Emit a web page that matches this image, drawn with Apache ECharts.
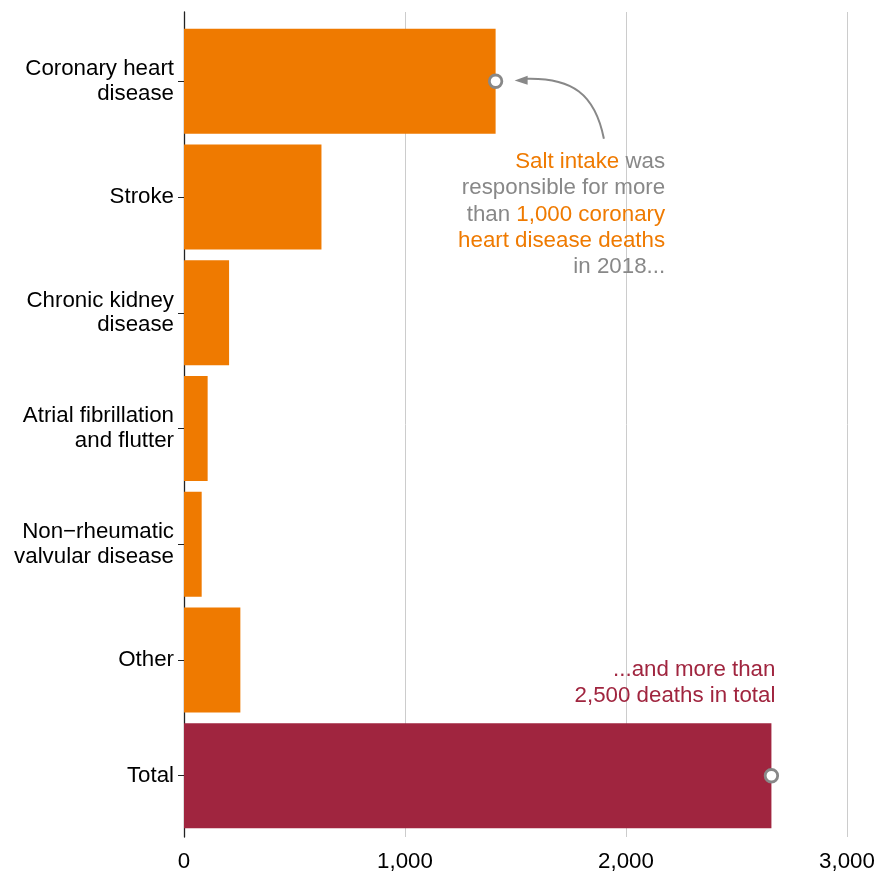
<!DOCTYPE html>
<html>
<head>
<meta charset="utf-8">
<script src="https://cdn.jsdelivr.net/npm/echarts@6/dist/echarts.min.js"></script>
<style>
  html, body { margin: 0; padding: 0; background: #ffffff; }
  #chart { width: 879px; height: 873px; }
</style>
</head>
<body>
<div id="chart"></div>
<script>
// Deaths attributable to salt intake, 2018, by cause
const causes = [
  'Coronary heart\ndisease',
  'Stroke',
  'Chronic kidney\ndisease',
  'Atrial fibrillation\nand flutter',
  'Non\u2212rheumatic\nvalvular disease',
  'Other',
  'Total'
];
const deaths = [1410, 622, 204, 107, 80, 255, 2658];
const xTicks = [0, 1000, 2000, 3000];
// causes that get a highlight marker at the end of their bar
const markedCauses = [0, 6];

const ORANGE = '#EF7A00';
const RED = '#A0253F';
const GREY = '#888888';
const FONT = '"Liberation Sans", Arial, Helvetica, sans-serif';
const FS = 22.3;

const chart = echarts.init(document.getElementById('chart'), null, { renderer: 'canvas' });

const panelLeft = 184, panelRight = 32;

chart.setOption({
  animation: false,
  backgroundColor: '#ffffff',
  textStyle: { fontFamily: FONT },
  grid: [
    // full panel: gridlines, x labels and the left axis line
    { left: panelLeft, right: panelRight, top: 12, bottom: 29, containLabel: false },
    // bar area, inset a little from the panel top and bottom
    { left: panelLeft, right: panelRight, top: 23.4, bottom: 39.4, containLabel: false }
  ],
  xAxis: [
    {
      gridIndex: 0, type: 'value',
      min: xTicks[0], max: xTicks[xTicks.length - 1], interval: xTicks[1] - xTicks[0],
      axisLine: { show: false }, axisTick: { show: false },
      splitLine: { show: true, lineStyle: { color: '#cccccc', width: 1 } },
      axisLabel: {
        color: '#000000', fontSize: FS, fontFamily: FONT, margin: 14,
        formatter: v => v.toLocaleString('en-US')
      }
    },
    {
      gridIndex: 1, type: 'value',
      min: xTicks[0], max: xTicks[xTicks.length - 1],
      show: false
    }
  ],
  yAxis: [
    {
      gridIndex: 0, type: 'value', min: 0, max: 1,
      axisLine: { show: true, lineStyle: { color: '#222222', width: 1.3 } },
      axisTick: { show: false }, axisLabel: { show: false }, splitLine: { show: false }
    },
    {
      gridIndex: 1, type: 'category', data: causes, inverse: true,
      axisLine: { show: false },
      axisTick: { show: true, alignWithLabel: true, length: 6, lineStyle: { color: '#222222', width: 1 } },
      axisLabel: {
        color: '#000000', fontSize: FS, fontFamily: FONT, lineHeight: 24.5,
        align: 'right', margin: 10, padding: [9, 0, 0, 0]
      },
      splitLine: { show: false }
    }
  ],
  series: [
    {
      type: 'bar', xAxisIndex: 1, yAxisIndex: 1,
      barCategoryGap: '9.2%',
      data: deaths.map((v, i) => ({
        value: v,
        itemStyle: { color: causes[i] === 'Total' ? RED : ORANGE }
      })),
      silent: true
    },
    {
      type: 'scatter', xAxisIndex: 1, yAxisIndex: 1,
      symbol: 'circle', symbolSize: 12.5,
      itemStyle: { color: '#ffffff', borderColor: GREY, borderWidth: 2.8, opacity: 1 },
      data: markedCauses.map(i => [deaths[i], i]),
      z: 5, silent: true
    }
  ]
});

// Annotations placed relative to the highlighted bar ends
const chd = chart.convertToPixel({ seriesIndex: 1 }, [deaths[0], 0]);
const tot = chart.convertToPixel({ seriesIndex: 1 }, [deaths[6], 6]);

chart.setOption({
  graphic: [
    {
      type: 'bezierCurve', z: 10, silent: true,
      shape: {
        x1: chd[0] + 31.3, y1: chd[1] - 2.5,
        cpx1: chd[0] + 76.3, cpy1: chd[1] - 3.5,
        cpx2: chd[0] + 99.3, cpy2: chd[1] + 12.5,
        x2: chd[0] + 108.3, y2: chd[1] + 57.5
      },
      style: { stroke: GREY, lineWidth: 2, fill: null }
    },
    {
      type: 'polygon', z: 10, silent: true,
      shape: {
        points: [
          [chd[0] + 19.0, chd[1] - 0.8],
          [chd[0] + 32.0, chd[1] - 5.6],
          [chd[0] + 32.0, chd[1] + 3.6]
        ]
      },
      style: { fill: GREY }
    },
    {
      type: 'text', z: 10, silent: true,
      x: chd[0] + 169.5, y: chd[1] + 67.5,
      style: {
        text: '{o|Salt intake} {g|was}\n{g|responsible for more}\n{g|than} {o|1,000 coronary}\n{o|heart disease deaths}\n{g|in 2018...}',
        align: 'right', verticalAlign: 'top',
        fontFamily: FONT, fontSize: FS, lineHeight: 26.3, fill: GREY,
        rich: {
          o: { fill: ORANGE, fontSize: FS, fontFamily: FONT, lineHeight: 26.3 },
          g: { fill: GREY, fontSize: FS, fontFamily: FONT, lineHeight: 26.3 }
        }
      }
    },
    {
      type: 'text', z: 10, silent: true,
      x: tot[0] + 4, y: tot[1] - 118.5,
      style: {
        text: '...and more than\n2,500 deaths in total',
        align: 'right', verticalAlign: 'top',
        fontFamily: FONT, fontSize: FS, lineHeight: 26, fill: RED
      }
    }
  ]
});
</script>
</body>
</html>
